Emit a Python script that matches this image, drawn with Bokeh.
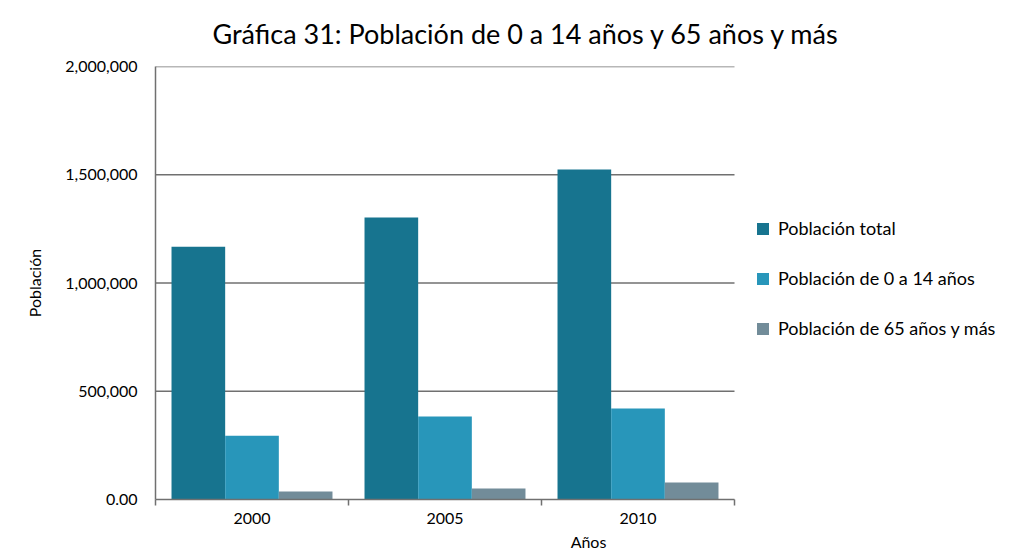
from bokeh.plotting import figure
from bokeh.models import Range1d, FixedTicker, Legend, LegendItem, Title, ColumnDataSource
from bokeh.transform import dodge
from bokeh.embed import file_html
from bokeh.resources import INLINE

# ---- data ----
years = ["2000", "2005", "2010"]
poblacion_total = [1168000, 1302000, 1524000]
poblacion_0_14 = [295000, 383000, 420000]
poblacion_65_mas = [37000, 51000, 78000]
series_names = ["Población total", "Población de 0 a 14 años", "Población de 65 años y más"]
series_colors = ["#17748F", "#2896BA", "#728C99"]
y_ticks = [0, 500000, 1000000, 1500000, 2000000]
y_tick_labels = ["0.00", "500,000", "1,000,000", "1,500,000", "2,000,000"]
title_text = "Gráfica 31: Población de 0 a 14 años y 65 años y más"
x_label = "Años"
y_label = "Población"

FONT = "Lato"
GREY = "#707070"

# ---- layout (pixels) ----
W, H = 1021, 554
left_border, bottom_border, top_border = 155, 55, 66
plot_w = 579                       # width of the visible chart area
frame_w = W - left_border          # frame runs to the right edge (room for legend)
y_max = y_ticks[-1]

centers = [i + 0.5 for i in range(len(years))]
source = ColumnDataSource(dict(x=centers, total=poblacion_total,
                               joven=poblacion_0_14, mayor=poblacion_65_mas))

p = figure(width=W, height=H,
           x_range=Range1d(0, len(years) * frame_w / plot_w),
           y_range=Range1d(0, y_max),
           output_backend="svg", toolbar_location=None,
           min_border_left=left_border, min_border_right=0,
           min_border_top=top_border, min_border_bottom=bottom_border)
p.outline_line_color = None
p.xgrid.grid_line_color = None
p.ygrid.grid_line_color = None

# horizontal grid lines at the y ticks, limited to the chart area
grid_src = ColumnDataSource(dict(y=y_ticks[1:]))
p.segment(x0=0, x1=len(years), y0="y", y1="y", source=grid_src,
          line_color=GREY, line_width=1.5)

bw = 0.278
fields = ["total", "joven", "mayor"]
offsets = [-bw, 0, bw]
renderers = []
for f, off, c in zip(fields, offsets, series_colors):
    r = p.vbar(x=dodge("x", off, range=p.x_range), top=f, bottom=0, width=bw,
               source=source, fill_color=c, line_color=None)
    renderers.append(r)

# y axis
p.yaxis.bounds = (0, y_max)
p.yaxis.ticker = FixedTicker(ticks=y_ticks)
p.yaxis.major_label_overrides = {t: l for t, l in zip(y_ticks, y_tick_labels)}
p.yaxis.axis_line_color = GREY
p.yaxis.axis_line_width = 1.5
p.yaxis.major_tick_line_color = None
p.yaxis.major_tick_out = 0
p.yaxis.major_tick_in = 0
p.yaxis.minor_tick_line_color = None
p.yaxis.major_label_text_font = FONT
p.yaxis.major_label_text_font_size = "16px"
p.yaxis.major_label_text_color = "#000000"
p.yaxis.major_label_standoff = 18
p.yaxis.axis_label = y_label
p.yaxis.axis_label_text_font = FONT
p.yaxis.axis_label_text_font_size = "16px"
p.yaxis.axis_label_text_font_style = "normal"
p.yaxis.axis_label_text_color = "#000000"
p.yaxis.axis_label_standoff = 18

# x axis: labels at centers, ticks at category boundaries
p.xaxis.bounds = (0, len(years))
p.xaxis.ticker = FixedTicker(ticks=centers, minor_ticks=list(range(len(years) + 1)))
p.xaxis.major_label_overrides = {c: y for c, y in zip(centers, years)}
p.xaxis.axis_line_color = GREY
p.xaxis.axis_line_width = 1.5
p.xaxis.major_tick_line_color = None
p.xaxis.major_tick_out = 0
p.xaxis.major_tick_in = 0
p.xaxis.minor_tick_line_color = GREY
p.xaxis.minor_tick_line_width = 1.5
p.xaxis.minor_tick_in = 0
p.xaxis.minor_tick_out = 6
p.xaxis.major_label_text_font = FONT
p.xaxis.major_label_text_font_size = "16px"
p.xaxis.major_label_text_color = "#000000"
p.xaxis.major_label_standoff = 7
p.xaxis.axis_label = x_label
p.xaxis.axis_label_text_font = FONT
p.xaxis.axis_label_text_font_size = "16px"
p.xaxis.axis_label_text_font_style = "normal"
p.xaxis.axis_label_text_color = "#000000"
p.xaxis.axis_label_standoff = 5

# title
t = Title(text=title_text, align="left", offset=57, standoff=30, vertical_align="top",
          text_font=FONT, text_font_size="27px", text_font_style="normal",
          text_color="#000000")
p.add_layout(t, "above")

# legend
legend = Legend(items=[LegendItem(label=n, renderers=[r]) for n, r in zip(series_names, renderers)],
                location=(600, 160), orientation="vertical",
                label_text_font=FONT, label_text_font_size="18px",
                label_text_color="#000000",
                glyph_width=15, glyph_height=15, label_height=20,
                spacing=28, label_standoff=8, padding=0, margin=0,
                border_line_color=None, background_fill_alpha=0)
p.add_layout(legend, "center")

open("out.html", "w").write(file_html(p, INLINE))
